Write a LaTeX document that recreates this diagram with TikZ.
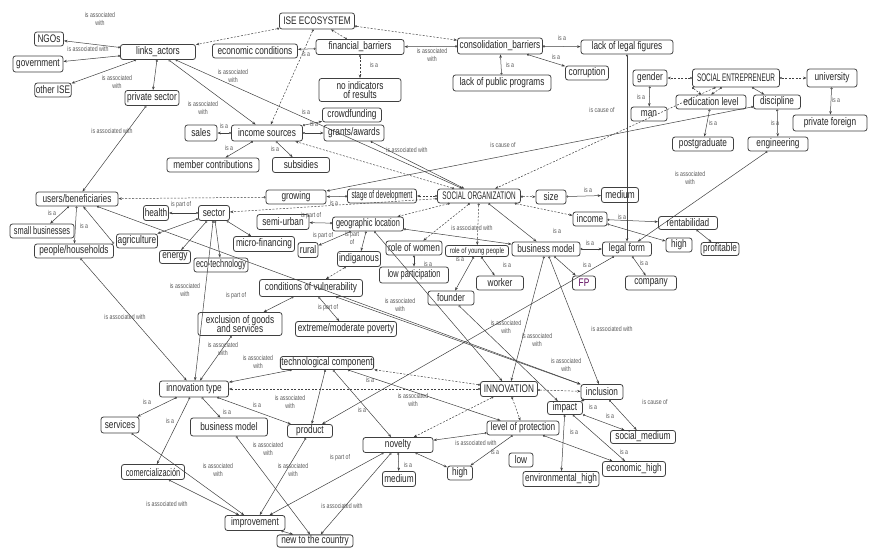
\documentclass[tikz,border=0pt]{standalone}
\usepackage{fontspec}
\setmainfont[FakeStretch=0.75]{Liberation Sans}
\usetikzlibrary{arrows.meta}
\newcommand{\nfs}{\fontsize{11}{11.5}\selectfont}
\newcommand{\lfs}{\fontsize{7}{7.4}\selectfont}
\tikzset{
 box/.style={draw=black!75, line width=0.8pt, rounded corners=2.5pt, fill=white, inner sep=1pt, align=center, font=\nfs, text=black!85, minimum height=14pt},
 nA/.style={font={\nfs\addfontfeature{FakeStretch=0.58}}},
 nB/.style={font={\nfs\addfontfeature{FakeStretch=0.67}}},
 lnk/.style={draw=black!75, line width=0.5pt, {Circle[open,length=2.2pt]}-{Stealth[length=3.5pt,width=2.6pt]}},
 dsh/.style={lnk, dash pattern=on 2pt off 1.5pt},
 lbl/.style={font=\lfs, text=black!65, align=center, inner sep=0pt},
}
\begin{document}
\begin{tikzpicture}[x=1pt,y=-1pt]
\useasboundingbox (0,0) rectangle (877,557);
% ---------- nodes ----------
\node[box,minimum width=75pt,minimum height=16pt] (ise) at (317,21) {ISE ECOSYSTEM};
\node[box,minimum width=29pt] (ngos) at (49,39) {NGOs};
\node[box,minimum width=50pt,minimum height=16pt] (gov) at (38,64) {government};
\node[box,minimum width=36pt] (oise) at (53,90) {other ISE};
\node[box,minimum width=75pt,minimum height=15pt] (links) at (158,52) {links\_actors};
\node[box,minimum width=54pt,minimum height=15pt] (priv) at (152,98) {private sector};
\node[box,minimum width=85pt] (econ) at (255,51) {economic conditions};
\node[box,minimum width=88pt,minimum height=15pt] (finb) at (360,47) {financial\_barriers};
\node[box,minimum width=82pt,minimum height=23pt] (noind) at (360,90) {no indicators\\[-2pt]of results};
\node[box,minimum width=85pt,minimum height=16pt] (consb) at (500,46) {consolidation\_barriers};
\node[box,minimum width=98pt,minimum height=16pt] (lpp) at (502,83) {lack of public programs};
\node[box,minimum width=92pt] (llf) at (627,47) {lack of legal figures};
\node[box,minimum width=43pt] (corr) at (587,73) {corruption};
\node[box,minimum width=59pt] (crowd) at (352,115) {crowdfunding};
\node[box,minimum width=60pt,minimum height=16pt] (grants) at (354,133) {grants/awards};
\node[box,minimum width=71pt,minimum height=16pt] (incs) at (267,133) {income sources};
\node[box,minimum width=32pt,minimum height=16pt] (sales) at (201,133) {sales};
\node[box,minimum width=92pt] (memb) at (213,165) {member contributions};
\node[box,minimum width=57pt,minimum height=15pt] (subs) at (301,165) {subsidies};
\node[box,minimum width=34pt,minimum height=16pt] (gender) at (650,78) {gender};
\node[box,nA,minimum width=87pt,minimum height=18pt] (sent) at (736,78) {SOCIAL ENTREPRENEUR};
\node[box,minimum width=50pt,minimum height=18pt] (univ) at (832,78) {university};
\node[box,minimum width=70pt] (edu) at (711,102) {education level};
\node[box,minimum width=47pt] (disc) at (777,102) {discipline};
\node[box,minimum width=36pt] (man) at (649,114) {man};
\node[box,minimum width=74pt,minimum height=16pt] (pfor) at (830,123) {private foreign};
\node[box,minimum width=61pt] (postg) at (703,144) {postgraduate};
\node[box,minimum width=60pt] (eng) at (778,144) {engineering};
\node[box,minimum width=37pt,minimum height=15pt] (medu) at (620,195) {medium};
\node[box,minimum width=30pt] (size) at (551,197) {size};
\node[box,nA,minimum width=83pt] (so) at (479,196) {SOCIAL ORGANIZATION};
\node[box,nA,minimum width=69pt] (stage) at (382,196) {stage of development};
\node[box,minimum width=60pt] (grow) at (296,197) {growing};
\node[box,minimum width=82pt] (users) at (77,199) {users/beneficiaries};
\node[box,nB,minimum width=64pt] (smallb) at (42,231) {small businesses};
\node[box,minimum width=79pt] (people) at (74,251) {people/households};
\node[box,minimum width=25pt,minimum height=15pt] (health) at (156,213) {health};
\node[box,minimum width=31pt,minimum height=15pt] (sector) at (214,213) {sector};
\node[box,minimum width=41pt] (agri) at (137,241) {agriculture};
\node[box,minimum width=31pt,minimum height=13pt] (energy) at (175,257) {energy};
\node[box,nB,minimum width=54pt] (eco) at (221,265) {eco-technology};
\node[box,minimum width=61pt,minimum height=15pt] (micro) at (264,244) {micro-financing};
\node[box,minimum width=52pt,minimum height=15pt] (semi) at (283,222) {semi-urban};
\node[box,nB,minimum width=71pt] (geo) at (368,224) {geographic location};
\node[box,minimum width=20pt,minimum height=15pt] (rural) at (308,250) {rural};
\node[box,minimum width=43pt,minimum height=15pt] (indig) at (359,259) {indiganous};
\node[box,minimum width=56pt] (women) at (414,248) {role of women};
\node[box,minimum width=63pt,minimum height=11pt,font=\fontsize{8}{8.5}\selectfont] (young) at (477,251) {role of young people};
\node[box,minimum width=68pt] (bm1) at (546,249) {business model};
\node[box,minimum width=34pt] (income) at (590,219) {income};
\node[box,minimum width=59pt,minimum height=13pt] (rent) at (688,223) {rentabilidad};
\node[box,minimum width=26pt] (high1) at (679,245) {high};
\node[box,minimum width=38pt,minimum height=13pt] (prof) at (720,249) {profitable};
\node[box,minimum width=49pt] (legal) at (627,249) {legal form};
\node[box,minimum width=51pt] (comp) at (651,283) {company};
\node[box,minimum width=23pt,text=violet!70!black] (fp) at (584,283) {FP};
\node[box,nB,minimum width=69pt,minimum height=16pt] (lowp) at (414,275) {low participation};
\node[box,minimum width=46pt] (founder) at (451,298) {founder};
\node[box,minimum width=47pt] (worker) at (500,283) {worker};
\node[box,minimum width=103pt,minimum height=17pt] (cond) at (311,288) {conditions of vulnerability};
\node[box,minimum width=84pt,minimum height=23pt] (excl) at (240,324) {exclusion of goods\\[-2pt]and services};
\node[box,minimum width=101pt,minimum height=15pt] (ext) at (346,329) {extreme/moderate poverty};
\node[box,minimum width=90pt,minimum height=13pt] (tech) at (327,363) {technological component};
\node[box,minimum width=69pt,minimum height=16pt] (itype) at (194,389) {innovation type};
\node[box,minimum width=57pt,minimum height=15pt] (innov) at (509,389) {INNOVATION};
\node[box,minimum width=42pt,minimum height=15pt] (incl) at (602,392) {inclusion};
\node[box,minimum width=35pt,minimum height=13pt] (impact) at (565,408) {impact};
\node[box,minimum width=38pt,minimum height=16pt] (serv) at (120,425) {services};
\node[box,minimum width=77pt,minimum height=18pt] (bm2) at (229,427) {business model};
\node[box,minimum width=45pt,minimum height=13pt] (prod) at (310,431) {product};
\node[box,minimum width=72pt] (lprot) at (523,428) {level of protection};
\node[box,minimum width=70pt,minimum height=15pt] (nov) at (398,445) {novelty};
\node[box,minimum width=33pt,minimum height=15pt] (medl) at (399,479) {medium};
\node[box,minimum width=25pt] (high2) at (460,473) {high};
\node[box,minimum width=24pt] (low) at (521,460) {low};
\node[box,minimum width=76pt,minimum height=15pt] (envh) at (561,479) {environmental\_high};
\node[box,minimum width=65pt,minimum height=13pt] (socm) at (643,437) {social\_medium};
\node[box,minimum width=63pt,minimum height=15pt] (ecoh) at (634,469) {economic\_high};
\node[box,nB,minimum width=63pt,minimum height=15pt] (comer) at (153,472) {comercialización};
\node[box,minimum width=60pt,minimum height=15pt] (impr) at (255,523) {improvement};
\node[box,minimum width=76pt,minimum height=12pt] (newc) at (315,541) {new to the country};
% ---------- connectors ----------
\draw[lnk] (links) -- (ngos) node[lbl,at={(100,19)}]{is associated\\with};
\draw[lnk] (links) -- (gov) node[lbl,at={(88,49)}]{is associated with};
\draw[lnk] (links) -- (oise) node[lbl,at={(117,82)}]{is associated\\with};
\draw[lnk] (links) -- (priv);
\draw[dsh] (ise) -- (links);
\draw[dsh] (ise) -- (incs);
\draw[dsh] (finb) -- (ise);
\draw[dsh] (ise) -- (consb);
\draw[lnk] (finb) -- (econ) node[lbl,at={(306,54)}]{is a};
\draw[dsh] (finb) -- (noind) node[lbl,at={(374,65)}]{is a};
\draw[lnk] (consb) -- (finb) node[lbl,at={(432,55)}]{is associated\\with};
\draw[lnk] (consb) -- (llf) node[lbl,at={(562,38)}]{is a};
\draw[lnk] (consb) -- (corr) node[lbl,at={(556,57)}]{is a};
\draw[lnk] (lpp) -- (consb) node[lbl,at={(510,65)}]{is a};
\draw[lnk] (llf.south) -- (legal.north) node[lbl,at={(602,110)}]{is cause of};
\draw[dsh] (sent) -- (gender);
\draw[dsh] (sent) -- (univ);
\draw[dsh] (sent.south west) -- (edu);
\draw[dsh] (sent) -- (edu.north);
\draw[lnk] (sent) -- (disc);
\draw[lnk] (gender) -- (man) node[lbl,at={(641,97)}]{is a};
\draw[lnk] (univ) -- (pfor) node[lbl,at={(836,100)}]{is a};
\draw[lnk] (edu) -- (postg) node[lbl,at={(713,123)}]{is a};
\draw[lnk] (disc) -- (eng) node[lbl,at={(775,123)}]{is a};
\draw[dsh] (sent) -- (so);
\draw[lnk] (disc) -- (grow) node[lbl,at={(503,145)}]{is cause of};
\draw[dsh] (so) -- (stage);
\draw[lnk] (stage) -- (grow) node[lbl,at={(334,203)}]{is a};
\draw[dsh] (grow) -- (users);
\draw[dsh] (so) -- (size);
\draw[lnk] (size) -- (medu) node[lbl,at={(588,190)}]{is a};
\draw[dsh] (so) -- (sector);
\draw[lnk] (sector) -- (health) node[lbl,at={(181,205)}]{is part of};
\draw[lnk] (sector) -- (agri);
\draw[lnk] (sector) -- (energy);
\draw[lnk] (sector) -- (eco);
\draw[lnk] (sector) -- (micro);
\draw[lnk] (sector) -- (itype) node[lbl,at={(185,290)}]{is associated\\with};
\draw[lnk] (geo) -- (semi) node[lbl,at={(311,216)}]{is part of};
\draw[lnk] (geo) -- (rural) node[lbl,at={(323,236)}]{is part of};
\draw[lnk] (geo) -- (indig) node[lbl,at={(352,238)}]{is part\\of};
\draw[lnk] (users) -- (smallb) node[lbl,at={(52,213)}]{is a};
\draw[lnk] (users) -- (people) node[lbl,at={(84,226)}]{is a};
\draw[lnk] (people.north east) -- (users);
\draw[lnk] (priv) -- (users) node[lbl,at={(112,131)}]{is associated with};
\draw[lnk] (links) -- (incs) node[lbl,at={(203,108)}]{is associated\\with};
\draw[lnk] (links) -- (so) node[lbl,at={(233,76)}]{is associated\\with};
\draw[lnk] (incs) -- (sales) node[lbl,at={(224,126)}]{is a};
\draw[lnk] (incs) -- (memb) node[lbl,at={(229,148)}]{is a};
\draw[lnk] (incs) -- (subs) node[lbl,at={(275,149)}]{is a};
\draw[lnk] (incs) -- (crowd) node[lbl,at={(306,112)}]{is a};
\draw[lnk] (incs) -- (grants) node[lbl,at={(314,124)}]{is a};
\draw[lnk] (grants) -- (so) node[lbl,at={(407,150)}]{is associated with};
\draw[dsh] (so) -- (incs);
\draw[dsh] (so) -- (geo);
\draw[dsh] (so) -- (women);
\draw[dsh] (so) -- (young) node[lbl,at={(472,228)}]{is associated with};
\draw[lnk] (so) -- (bm1);
\draw[dsh] (so) -- (income) node[lbl,at={(557,231)}]{is a};
\draw[lnk] (income) -- (rent) node[lbl,at={(622,217)}]{is a};
\draw[lnk] (income) -- (high1);
\draw[lnk] (rent) -- (prof);
\draw[lnk] (eng) -- (legal) node[lbl,at={(690,178)}]{is associated\\with};
\draw[lnk] (legal) -- (comp) node[lbl,at={(644,263)}]{is a};
\draw[lnk] (bm1) -- (legal) node[lbl,at={(590,243)}]{is a};
\draw[lnk] (bm1) -- (fp) node[lbl,at={(587,265)}]{is a};
\draw[lnk] (women) -- (lowp) node[lbl,at={(428,264)}]{is a};
\draw[lnk] (young) -- (founder) node[lbl,at={(460,259)}]{is a};
\draw[lnk] (young) -- (worker) node[lbl,at={(507,265)}]{is a};
\draw[lnk] (geo) -- (bm1);
\draw[lnk] (geo) -- (innov) node[lbl,at={(400,305)}]{is associated\\with};
\draw[lnk] (founder) -- (impact);
\draw[lnk] (cond) -- (excl) node[lbl,at={(236,296)}]{is part of};
\draw[lnk] (cond) -- (ext) node[lbl,at={(328,308)}]{is part of};
\draw[dsh] (indig) -- (cond);
\draw[lnk] (users) -- (incl);
\draw[lnk] (cond) -- (incl) node[lbl,at={(566,365)}]{is associated\\with};
\draw[lnk] (bm1) -- (innov) node[lbl,at={(537,340)}]{is associated\\with};
\draw[lnk] (bm1) -- (incl) node[lbl,at={(612,329)}]{is associated with};
\draw[lnk] (legal) -- (prod) node[lbl,at={(506,327)}]{is associated\\with};
\draw[dsh] (innov) -- (tech) node[lbl,at={(370,380)}]{is a};
\draw[dsh] (innov) -- (itype);
\draw[lnk] (people) -- (itype) node[lbl,at={(125,317)}]{is associated with};
\draw[lnk] (excl) -- (itype) node[lbl,at={(223,349)}]{is associated\\with};
\draw[lnk] (tech) -- (itype) node[lbl,at={(258,362)}]{is associated\\with};
\draw[lnk] (itype) -- (serv) node[lbl,at={(147,402)}]{is a};
\draw[lnk] (itype) -- (comer) node[lbl,at={(170,421)}]{is a};
\draw[lnk] (itype) -- (bm2) node[lbl,at={(227,412)}]{is a};
\draw[lnk] (itype) -- (prod) node[lbl,at={(257,405)}]{is a};
\draw[lnk] (tech) -- (prod) node[lbl,at={(290,402)}]{is associated\\with};
\draw[lnk] (tech) -- (nov) node[lbl,at={(362,410)}]{is a};
\draw[lnk] (tech) -- (lprot) node[lbl,at={(413,400)}]{is associated\\with};
\draw[lnk] (nov) -- (medl) node[lbl,at={(408,465)}]{is a};
\draw[lnk] (nov) -- (high2);
\draw[lnk] (lprot) -- (nov) node[lbl,at={(476,443)}]{is associated with};
\draw[lnk] (lprot) -- (high2) node[lbl,at={(495,452)}]{is a};
\draw[lnk] (lprot) -- (ecoh);
\draw[dsh] (innov) -- (lprot);
\draw[dsh] (innov) -- (nov);
\draw[dsh] (innov) -- (incl);
\draw[lnk] (impact) -- (envh) node[lbl,at={(574,432)}]{is a};
\draw[lnk] (impact) -- (socm) node[lbl,at={(610,416)}]{is a};
\draw[lnk] (impact) -- (ecoh) node[lbl,at={(624,452)}]{is a};
\draw[lnk] (incl) -- (impact) node[lbl,at={(593,407)}]{is a};
\draw[lnk] (incl) -- (socm) node[lbl,at={(655,402)}]{is cause of};
\draw[lnk] (serv) -- (impr) node[lbl,at={(218,470)}]{is associated\\with};
\draw[lnk] (comer) -- (impr) node[lbl,at={(167,504)}]{is associated with};
\draw[lnk] (bm2) -- (newc) node[lbl,at={(268,449)}]{is associated\\with};
\draw[lnk] (prod) -- (impr) node[lbl,at={(293,470)}]{is associated\\with};
\draw[lnk] (nov) -- (impr) node[lbl,at={(340,458)}]{is part of};
\draw[lnk] (nov) -- (newc) node[lbl,at={(342,506)}]{is associated with};
\draw[lnk] (impr) -- (newc);
\end{tikzpicture}
\end{document}
